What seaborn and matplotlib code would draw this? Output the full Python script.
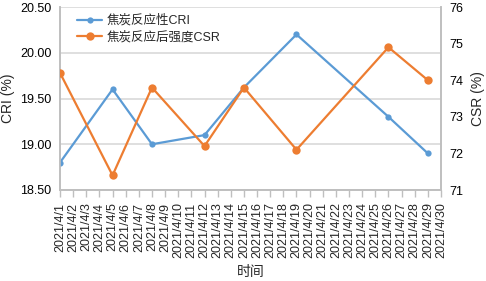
import matplotlib
matplotlib.use("Agg")
import matplotlib.pyplot as plt
import matplotlib.dates as mdates
from matplotlib.ticker import FuncFormatter
import seaborn as sns
import pandas as pd

cri_dates = ["2021-04-01", "2021-04-05", "2021-04-08", "2021-04-12", "2021-04-15",
             "2021-04-19", "2021-04-26", "2021-04-29"]
cri_values = [18.8, 19.6, 19.0, 19.1, 19.62, 20.2, 19.3, 18.9]
csr_dates = ["2021-04-01", "2021-04-05", "2021-04-08", "2021-04-12", "2021-04-15",
             "2021-04-19", "2021-04-26", "2021-04-29"]
csr_values = [74.2, 71.4, 73.8, 72.2, 73.8, 72.1, 74.9, 74.0]
cri_label = "焦炭反应性CRI"
csr_label = "焦炭反应后强度CSR"
left_ticks = [18.5, 19.0, 19.5, 20.0, 20.5]
right_ticks = [71, 72, 73, 74, 75, 76]

sns.set_theme(style="white")
plt.rcParams['font.family'] = ['Liberation Sans', 'Noto Sans CJK SC', 'DejaVu Sans']

blue = "#5B9BD5"
orange = "#ED7D31"
grid_c = "#D9D9D9"
axis_c = "#BFBFBF"

df1 = pd.DataFrame({"date": pd.to_datetime(cri_dates), "v": cri_values})
df2 = pd.DataFrame({"date": pd.to_datetime(csr_dates), "v": csr_values})

W, H = 486, 281
x0, x1, y0, y1 = 60, 441, 7, 190
fig = plt.figure(figsize=(W / 100, H / 100), dpi=100)
ax = fig.add_axes([x0 / W, 1 - y1 / H, (x1 - x0) / W, (y1 - y0) / H])
ax2 = ax.twinx()

sns.lineplot(data=df1, x="date", y="v", ax=ax, color=blue, marker="o", markersize=4.5,
             markeredgewidth=0, linewidth=1.6, label=cri_label, legend=False, zorder=3)
sns.lineplot(data=df2, x="date", y="v", ax=ax2, color=orange, marker="o", markersize=6,
             markeredgewidth=0, linewidth=1.6, label=csr_label, legend=False, zorder=3)

ax.set_ylim(18.5, 20.5)
ax.set_yticks(left_ticks)
ax.yaxis.set_major_formatter(FuncFormatter(lambda v, p: f"{v:.2f}"))
ax2.set_ylim(71, 76)
ax2.set_yticks(right_ticks)

start = pd.Timestamp("2021-04-01")
end = pd.Timestamp("2021-04-30")
ax.set_xlim(start, end)
ax.xaxis.set_major_locator(mdates.DayLocator())
ax.xaxis.set_major_formatter(FuncFormatter(
    lambda v, p: (lambda d: f"{d.year}/{d.month}/{d.day}")(mdates.num2date(v))))
for lab in ax.get_xticklabels():
    lab.set_rotation(90)

ax.grid(axis="y", color=grid_c, linewidth=1.2)
ax.set_axisbelow(True)
for a in (ax, ax2):
    a.spines["top"].set_visible(False)
    for s in ("left", "right", "bottom"):
        a.spines[s].set_color(axis_c)
        a.spines[s].set_linewidth(1.2)

ax.tick_params(axis="x", length=5, color=axis_c, width=1, labelsize=9, pad=4, bottom=True)
ax.tick_params(axis="y", length=0, labelsize=9, pad=6, colors="#000000")
ax2.tick_params(axis="y", length=0, labelsize=9, pad=6, colors="#000000")

ax.set_xlabel("时间", fontsize=10)
ax.set_ylabel("CRI (%)", fontsize=10)
ax2.set_ylabel("CSR (%)", fontsize=10)
ax.xaxis.set_label_coords(0.5, -(265 - y1) / (y1 - y0))
ax.yaxis.set_label_coords((15 - x0) / (x1 - x0), 0.5)
ax2.yaxis.set_label_coords((471 - x0) / (x1 - x0), 0.5)

h1, l1 = ax.get_legend_handles_labels()
h2, l2 = ax2.get_legend_handles_labels()
leg = ax2.legend(h1 + h2, l1 + l2, loc="upper left", bbox_to_anchor=(0.025, 1.0),
                 frameon=False, fontsize=9, handlelength=2.0, handletextpad=0.35,
                 labelspacing=0.35, borderaxespad=0.2)

fig.savefig("out.png", dpi=100)
